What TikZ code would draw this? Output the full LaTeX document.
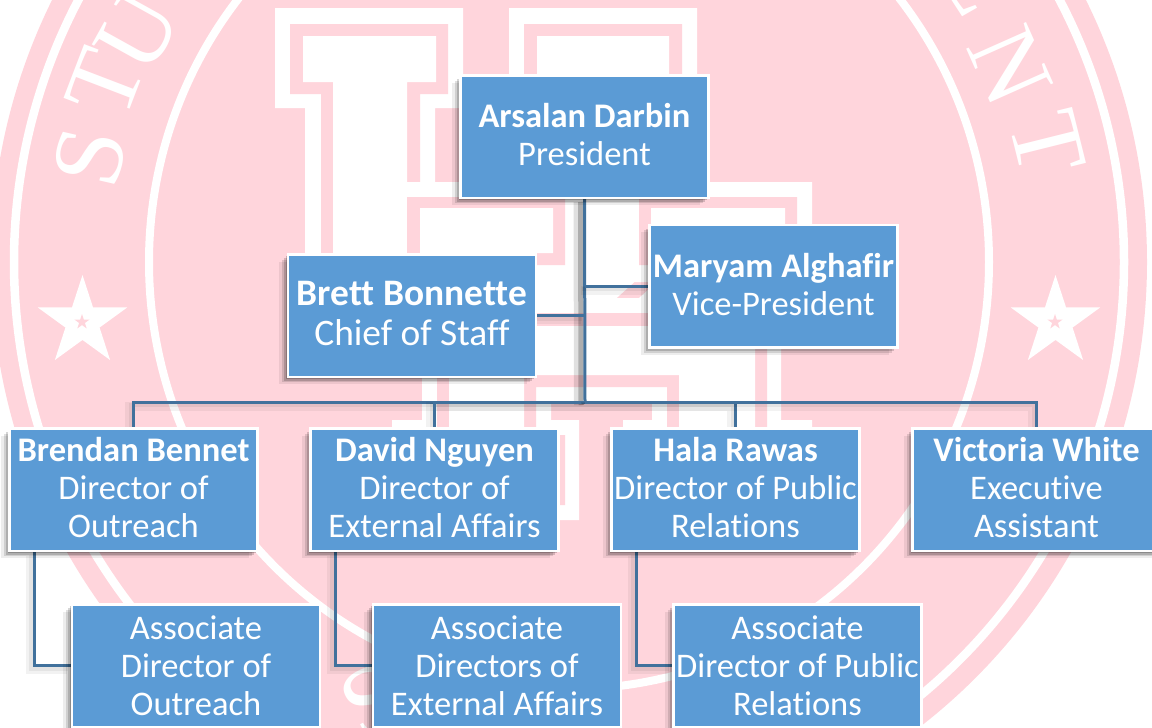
\documentclass[tikz,border=0pt]{standalone}
\usepackage{fontspec}
\setmainfont[Ligatures=CommonOff]{Carlito}
\newfontfamily\sealfont{Liberation Serif}
\usepackage{tikz}
\usetikzlibrary{shapes.geometric, shadows, backgrounds}
\definecolor{sealpink}{HTML}{FFD5DC}
\definecolor{boxblue}{HTML}{5B9BD5}
\definecolor{linkblue}{HTML}{41719C}
\tikzstyle{block} = [rectangle, minimum width=248pt, minimum height=122.5pt, inner sep=0pt, text depth=4pt, align=center, draw=white, line width=2.5pt, fill=boxblue, text=white, font=\fontsize{34.5}{38}\selectfont,
  general shadow={shadow xshift=-2pt, shadow yshift=-2pt, fill=black, opacity=.2},
  general shadow={shadow xshift=-4pt, shadow yshift=-4pt, fill=black, opacity=.16},
  general shadow={shadow xshift=-6pt, shadow yshift=-5.5pt, fill=black, opacity=.12},
  general shadow={shadow xshift=-9pt, shadow yshift=-7.5pt, fill=black, opacity=.07}]
\tikzstyle{bigblock} = [block, font=\fontsize{37.4}{40}\selectfont]
\tikzstyle{assocblock} = [block, text depth=0pt]
\tikzstyle{link} = [draw=linkblue, line width=3pt,
  preaction={draw=black, opacity=.05, line width=9pt, transform canvas={shift={(-4pt,-4pt)}}},
  preaction={draw=black, opacity=.06, line width=4pt, transform canvas={shift={(-3pt,-3pt)}}}]
\tikzstyle{trunklink} = [draw=linkblue, line width=3pt,
  preaction={draw=black, opacity=.12, line width=10pt, transform canvas={shift={(-6pt,-3pt)}}},
  preaction={draw=black, opacity=.22, line width=5pt, transform canvas={shift={(-4pt,-3pt)}}}]
\tikzstyle{sealstar} = [star, star points=5, star point ratio=2.618, inner sep=0pt, fill=white]
\tikzstyle{sealletter} = [text=white, inner sep=0pt, font=\sealfont\fontsize{100}{100}\selectfont]

\begin{document}
\begin{tikzpicture}[x=1pt, y=-1pt, node distance=301pt]
\useasboundingbox (0,0) rectangle (1152,728);

% Nodes
\node (pres) [block] at (584.5,136.5) {\textbf{Arsalan Darbin}\\President};
\node (brett) [bigblock] at (412,315.5) {\textbf{Brett Bonnette}\\Chief of Staff};
\node (maryam) [block] at (773.5,286) {\textbf{Maryam Alghafir}\\Vice-President};

\node (brendan) [block] at (133.5,489.5) {\textbf{Brendan Bennet}\\Director of\\Outreach};
\node (david) [block, right of=brendan] {\textbf{David Nguyen}\\Director of\\External Affairs};
\node (hala) [block, right of=david] {\textbf{Hala Rawas}\\Director of Public\\Relations};
\node (victoria) [block, right of=hala] {\textbf{Victoria White}\\Executive\\Assistant};

\node (assocout) [assocblock, below of=brendan, xshift=62.5pt, yshift=125pt] {Associate\\Director of\\Outreach};
\node (assocext) [assocblock, below of=david, xshift=62.5pt, yshift=125pt] {Associate\\Directors of\\External Affairs};
\node (assocpub) [assocblock, below of=hala, xshift=62pt, yshift=125pt] {Associate\\Director of Public\\Relations};

\coordinate (trunk) at (585,402);

\begin{scope}[on background layer]
% Seal behind the chart
\fill [sealpink] (569,262) ellipse [x radius=578pt, y radius=585pt];
\draw [white, line width=8.5pt] (569,262) ellipse [x radius=555pt, y radius=560pt];
\draw [white, line width=8pt] (569,262) ellipse [x radius=420pt, y radius=427pt];

\node (starleft) [sealstar, minimum size=94pt] at (82.5,322) {};
\node (starright) [sealstar, minimum size=94pt] at (1055.5,322) {};
\node (dotleft) [sealstar, fill=sealpink, minimum size=16pt] at (82,322) {};
\node (dotright) [sealstar, fill=sealpink, minimum size=16pt] at (1055,322) {};

\node (letS) [sealletter, rotate=77] at (90,157) {S};
\node (letT) [sealletter, rotate=69] at (105,83) {T};
\node (letU) [sealletter, rotate=61] at (138,31) {U};
\node (letE) [sealletter, rotate=-57] at (977,-22) {E};
\node (letN) [sealletter, rotate=-66] at (1010,66) {N};
\node (letTb) [sealletter, rotate=-76] at (1048,143) {T};
\node (letSb) [sealletter, rotate=27] at (372,702) {S};

% Block letters of the seal
\fill [white] (275,8) -- (463,8) -- (463,108) -- (435,108) -- (435,300) -- (537,300) -- (537,108) -- (509,108) -- (509,8) -- (697,8) -- (697,108) -- (667,108) -- (667,292) -- (615,340) -- (305,340) -- (305,108) -- (275,108) -- cycle;
\fill [sealpink] (290,24) -- (448,24) -- (448,94) -- (420,94) -- (420,290) -- (553,290) -- (553,94) -- (524,94) -- (524,24) -- (682,24) -- (682,94) -- (652,94) -- (652,286) -- (608,326) -- (321,326) -- (321,94) -- (290,94) -- cycle;
\fill [white] (303,36) -- (436,36) -- (436,82) -- (407,82) -- (407,280) -- (565,280) -- (565,82) -- (537,82) -- (537,36) -- (669,36) -- (669,82) -- (640,82) -- (640,277) -- (600,313) -- (333,313) -- (333,82) -- (303,82) -- cycle;

\fill [white] (392,182) -- (579,182) -- (579,282) -- (551,282) -- (551,298) -- (652,298) -- (652,282) -- (623,282) -- (623,182) -- (812,182) -- (812,282) -- (781,282) -- (781,420) -- (812,420) -- (812,520) -- (623,520) -- (623,420) -- (652,420) -- (652,403) -- (551,403) -- (551,420) -- (579,420) -- (579,520) -- (392,520) -- (392,420) -- (422,420) -- (422,282) -- (392,282) -- cycle;
\fill [sealpink] (407,197) -- (565,197) -- (565,265) -- (536,265) -- (536,313) -- (667,313) -- (667,265) -- (639,265) -- (639,197) -- (797,197) -- (797,265) -- (767,265) -- (767,435) -- (797,435) -- (797,505) -- (639,505) -- (639,435) -- (667,435) -- (667,387) -- (536,387) -- (536,435) -- (565,435) -- (565,505) -- (407,505) -- (407,435) -- (437,435) -- (437,265) -- (407,265) -- cycle;
\fill [white] (420,208) -- (553,208) -- (553,253) -- (524,253) -- (524,326) -- (679,326) -- (679,253) -- (651,253) -- (651,208) -- (785,208) -- (785,253) -- (755,253) -- (755,447) -- (785,447) -- (785,492) -- (651,492) -- (651,447) -- (679,447) -- (679,375) -- (524,375) -- (524,447) -- (553,447) -- (553,492) -- (420,492) -- (420,447) -- (449,447) -- (449,253) -- (420,253) -- cycle;

% Connectors
\draw [trunklink] (pres.south) -- (trunk);
\draw [link] (maryam.west) -- (maryam.west -| trunk);
\draw [link] (brett.east) -- (brett.east -| trunk);
\draw [link] (trunk) -| (brendan.north);
\draw [link] (trunk) -| (david.north);
\draw [link] (trunk) -| (hala.north);
\draw [link] (trunk) -| (victoria.north);
\draw [link] ([xshift=26pt]brendan.south west) |- (assocout.west);
\draw [link] ([xshift=26pt]david.south west) |- (assocext.west);
\draw [link] ([xshift=26pt]hala.south west) |- (assocpub.west);
\end{scope}

\end{tikzpicture}
\end{document}
